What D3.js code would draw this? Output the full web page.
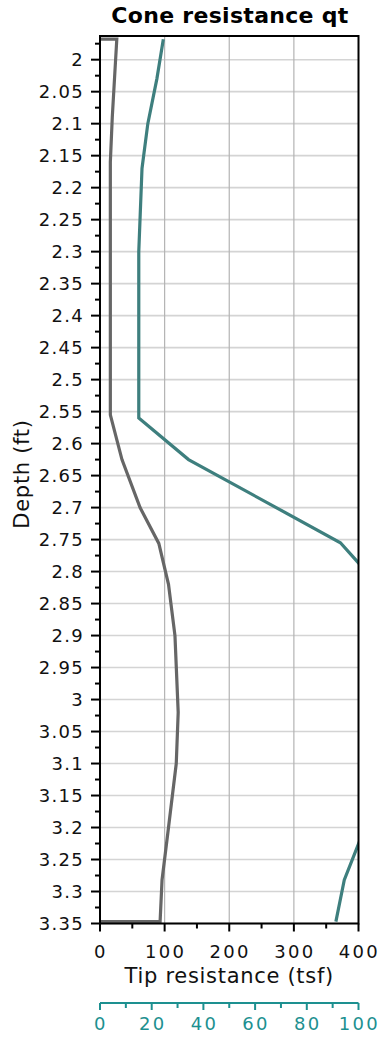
<!DOCTYPE html>
<html>
<head>
<meta charset="utf-8">
<script src="https://cdn.jsdelivr.net/npm/d3@7"></script>
<style>
  html, body { margin: 0; padding: 0; background: #fff; }
  svg { display: block; font-family: "DejaVu Sans", Verdana, sans-serif; }
</style>
</head>
<body>
<svg id="chart" width="381" height="1037"></svg>
<script>
// Gray trace: tip resistance (tsf) by depth (ft)
const grayDepth = [1.968, 1.968, 2.02, 2.09, 2.16, 2.30, 2.45, 2.555, 2.625, 2.70, 2.756, 2.82, 2.90, 3.02, 3.10, 3.20, 3.282, 3.347, 3.347];
const grayValue = [0, 26, 23, 19, 16, 16, 16, 16, 34, 62, 91, 106, 116, 121, 118, 106, 96, 93, 0];

// Teal trace: values past 400 fall outside the plotted range
const tealDepth = [1.968, 2.03, 2.10, 2.17, 2.30, 2.45, 2.56, 2.625, 2.755, 2.80, 2.90, 3.00, 3.10, 3.20, 3.282, 3.347];
const tealValue = [98, 88, 74, 65, 60, 60, 60, 137, 372, 412, 460, 480, 470, 410, 378, 365];

const depthTicks = d3.range(2, 3.3501, 0.05).map(v => +v.toFixed(2));
const depthMinor = d3.range(1.975, 3.35, 0.05).map(v => +v.toFixed(3));
const xTicks = [0, 100, 200, 300, 400];
const xMinor = [50, 150, 250, 350];
const x2Ticks = [0, 20, 40, 60, 80, 100];
const x2Minor = [10, 30, 50, 70, 90];

const svg = d3.select("#chart");
const pL = 100, pR = 358.5, pT = 36, pB = 923.5;

const y = d3.scaleLinear().domain([1.963, 3.35]).range([pT, pB]);
const x = d3.scaleLinear().domain([0, 400]).range([pL, pR]);
const x2 = d3.scaleLinear().domain([0, 100]).range([pL, pR]);

// grid
svg.append("g").selectAll("line").data(depthTicks).join("line")
  .attr("x1", pL).attr("x2", pR)
  .attr("y1", d => y(d)).attr("y2", d => y(d))
  .attr("stroke", "#d4d4d4").attr("stroke-width", 1.6);
svg.append("g").selectAll("line").data([100, 200, 300]).join("line")
  .attr("x1", d => x(d)).attr("x2", d => x(d))
  .attr("y1", pT).attr("y2", pB)
  .attr("stroke", "#b4b4b4").attr("stroke-width", 1.2);

// traces
svg.append("clipPath").attr("id", "plotClip").append("rect")
  .attr("x", pL).attr("y", pT).attr("width", pR - pL).attr("height", pB - pT);

const line = d3.line().x(d => x(d[1])).y(d => y(d[0]));
const plot = svg.append("g").attr("clip-path", "url(#plotClip)");
plot.append("path").datum(grayDepth.map((d, i) => [d, grayValue[i]]))
  .attr("d", line).attr("fill", "none").attr("stroke", "#666666")
  .attr("stroke-width", 3.2).attr("stroke-linejoin", "miter");
plot.append("path").datum(tealDepth.map((d, i) => [d, tealValue[i]]))
  .attr("d", line).attr("fill", "none").attr("stroke", "#3e7f7e")
  .attr("stroke-width", 3.2).attr("stroke-linejoin", "miter");

// frame
svg.append("rect").attr("x", pL).attr("y", pT)
  .attr("width", pR - pL).attr("height", pB - pT)
  .attr("fill", "none").attr("stroke", "#000").attr("stroke-width", 2);

// left axis
const yAxis = svg.append("g").attr("transform", `translate(${pL},0)`);
yAxis.selectAll("line.maj").data(depthTicks).join("line").attr("class", "maj")
  .attr("x1", -9).attr("x2", 0).attr("y1", d => y(d)).attr("y2", d => y(d))
  .attr("stroke", "#000").attr("stroke-width", 2);
yAxis.selectAll("line.min").data(depthMinor).join("line").attr("class", "min")
  .attr("x1", -5).attr("x2", 0).attr("y1", d => y(d)).attr("y2", d => y(d))
  .attr("stroke", "#000").attr("stroke-width", 2);
yAxis.selectAll("text").data(depthTicks).join("text")
  .attr("x", -16).attr("y", d => y(d)).attr("dy", "0.36em")
  .attr("text-anchor", "end").attr("font-size", 18).attr("letter-spacing", 1.3)
  .attr("fill", "#111").text(d => d3.format("")(d));

// bottom axis
const xAxis = svg.append("g").attr("transform", `translate(0,${pB})`);
xAxis.selectAll("line.maj").data(xTicks).join("line").attr("class", "maj")
  .attr("x1", d => x(d)).attr("x2", d => x(d)).attr("y1", 0).attr("y2", 8)
  .attr("stroke", "#000").attr("stroke-width", 2);
xAxis.selectAll("line.min").data(xMinor).join("line").attr("class", "min")
  .attr("x1", d => x(d)).attr("x2", d => x(d)).attr("y1", 0).attr("y2", 5)
  .attr("stroke", "#000").attr("stroke-width", 2);
xAxis.selectAll("text").data(xTicks).join("text")
  .attr("x", d => x(d) + 1).attr("y", 28).attr("dy", "0.36em")
  .attr("text-anchor", "middle").attr("font-size", 18).attr("letter-spacing", 2.3)
  .attr("fill", "#111").text(d => d);

svg.append("text").attr("x", (pL + pR) / 2).attr("y", 983)
  .attr("text-anchor", "middle").attr("font-size", 21).attr("letter-spacing", 0.7)
  .attr("fill", "#111")
  .text("Tip resistance (tsf)");

// secondary axis
const ax2Y = 1003;
const teal = "#1d9090";
const x2Axis = svg.append("g").attr("transform", `translate(0,${ax2Y})`);
x2Axis.append("line").attr("x1", pL).attr("x2", pR).attr("y1", 0).attr("y2", 0)
  .attr("stroke", teal).attr("stroke-width", 2);
x2Axis.selectAll("line.maj").data(x2Ticks).join("line").attr("class", "maj")
  .attr("x1", d => x2(d)).attr("x2", d => x2(d)).attr("y1", 0).attr("y2", 7)
  .attr("stroke", teal).attr("stroke-width", 2);
x2Axis.selectAll("line.min").data(x2Minor).join("line").attr("class", "min")
  .attr("x1", d => x2(d)).attr("x2", d => x2(d)).attr("y1", 0).attr("y2", 5)
  .attr("stroke", teal).attr("stroke-width", 2);
x2Axis.selectAll("text").data(x2Ticks).join("text")
  .attr("x", d => x2(d) + 1).attr("y", 21).attr("dy", "0.36em")
  .attr("text-anchor", "middle").attr("font-size", 18).attr("letter-spacing", 2.3)
  .attr("fill", teal).text(d => d);

// y title
svg.append("text").attr("transform", "translate(29,474) rotate(-90)")
  .attr("text-anchor", "middle").attr("font-size", 21).attr("letter-spacing", 0.7)
  .attr("fill", "#111")
  .text("Depth (ft)");

// title
svg.append("text").attr("x", 230).attr("y", 23)
  .attr("text-anchor", "middle").attr("font-size", 22).attr("font-weight", "bold")
  .attr("letter-spacing", 0.3)
  .attr("fill", "#000").text("Cone resistance qt");
</script>
</body>
</html>
